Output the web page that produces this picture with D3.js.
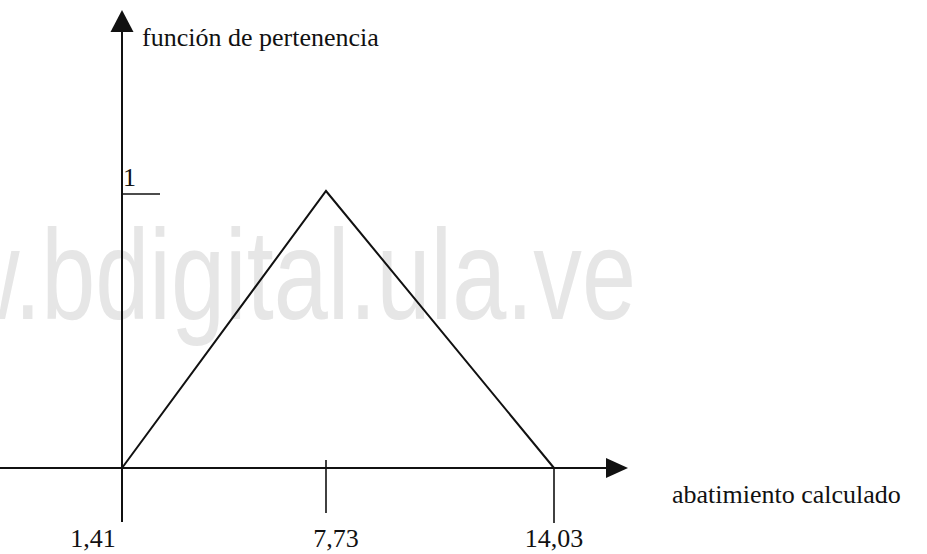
<!DOCTYPE html>
<html>
<head>
<meta charset="utf-8">
<script src="https://cdn.jsdelivr.net/npm/d3@7"></script>
<style>
  html, body { margin: 0; padding: 0; background: #fff; }
  svg { display: block; }
</style>
</head>
<body>
<div id="chart"></div>
<script>
// membership function (triangle)
const memX = [1.41, 7.73, 14.03];
const memY = [0, 1, 0];

const xTickValues = [1.41, 7.73, 14.03];
const xTickLabels = ["1,41", "7,73", "14,03"];
const yTickValues = [1];
const yTickLabels = ["1"];

const yTitle = "función de pertenencia";
const xTitle = "abatimiento calculado";
const watermark = "www.bdigital.ula.ve";

const width = 927;
const height = 554;
const ink = "#111";
const serif = "'Liberation Serif', 'Times New Roman', serif";

// the drawing is not to scale, so the x scale is piecewise over the three values
const xScale = d3.scaleLinear()
  .domain(xTickValues)
  .range([122, 326, 554]);

const yScale = d3.scaleLinear()
  .domain([0, 1])
  .range([468, 191]);

const svg = d3.select("#chart")
  .append("svg")
  .attr("width", width)
  .attr("height", height);

// watermark behind everything (runs off the left edge like the scan)
svg.append("text")
  .attr("transform", "translate(636,319) scale(0.76,1)")
  .attr("text-anchor", "end")
  .style("font-family", "'Liberation Sans', Arial, sans-serif")
  .style("font-size", "128px")
  .attr("fill", "#e6e6e6")
  .text(watermark);

const x0 = xScale(memX[0]);
const y0 = yScale(0);

// x axis with arrow
svg.append("line")
  .attr("x1", 0).attr("x2", 608)
  .attr("y1", y0).attr("y2", y0)
  .attr("stroke", ink).attr("stroke-width", 2);
svg.append("path")
  .attr("d", `M606,${y0 - 10}L628,${y0}L606,${y0 + 10}Z`)
  .attr("fill", ink);

// y axis with arrow (runs down past the origin as the 1,41 tick)
svg.append("line")
  .attr("x1", x0).attr("x2", x0)
  .attr("y1", 30).attr("y2", 522)
  .attr("stroke", ink).attr("stroke-width", 2);
svg.append("path")
  .attr("d", `M${x0 - 11.5},32L${x0},10L${x0 + 11.5},32Z`)
  .attr("fill", ink);

// x ticks
const tickTop = [y0, y0 - 8, y0];
const tickBottom = [522, 513, 523];
svg.selectAll(".xtick")
  .data(xTickValues)
  .enter()
  .append("line")
  .attr("class", "xtick")
  .attr("x1", d => xScale(d)).attr("x2", d => xScale(d))
  .attr("y1", (d, i) => tickTop[i])
  .attr("y2", (d, i) => tickBottom[i])
  .attr("stroke", ink).attr("stroke-width", 1.6);

const labelShift = [-29, 10, 0];
svg.selectAll(".xlabel")
  .data(xTickValues)
  .enter()
  .append("text")
  .attr("class", "xlabel")
  .attr("x", (d, i) => xScale(d) + labelShift[i])
  .attr("y", 547)
  .attr("text-anchor", "middle")
  .style("font-family", serif)
  .style("font-size", "26px")
  .attr("fill", ink)
  .text((d, i) => xTickLabels[i]);

// y tick
svg.selectAll(".ytick")
  .data(yTickValues)
  .enter()
  .append("line")
  .attr("class", "ytick")
  .attr("x1", x0).attr("x2", x0 + 38)
  .attr("y1", d => yScale(d) + 3).attr("y2", d => yScale(d) + 3)
  .attr("stroke", ink).attr("stroke-width", 1.6);

svg.selectAll(".ylabel")
  .data(yTickValues)
  .enter()
  .append("text")
  .attr("class", "ylabel")
  .attr("x", x0 + 1)
  .attr("y", d => yScale(d) - 5)
  .style("font-family", serif)
  .style("font-size", "26px")
  .attr("fill", ink)
  .text((d, i) => yTickLabels[i]);

// triangle
const line = d3.line()
  .x(d => xScale(d[0]))
  .y(d => yScale(d[1]));

svg.append("path")
  .datum(memX.map((v, i) => [v, memY[i]]))
  .attr("d", line)
  .attr("fill", "none")
  .attr("stroke", ink)
  .attr("stroke-width", 2);

// axis titles
svg.append("text")
  .attr("x", 142)
  .attr("y", 46)
  .style("font-family", serif)
  .style("font-size", "26px")
  .attr("fill", ink)
  .text(yTitle);

svg.append("text")
  .attr("x", 672)
  .attr("y", 503)
  .style("font-family", serif)
  .style("font-size", "26px")
  .attr("fill", ink)
  .text(xTitle);
</script>
</body>
</html>
